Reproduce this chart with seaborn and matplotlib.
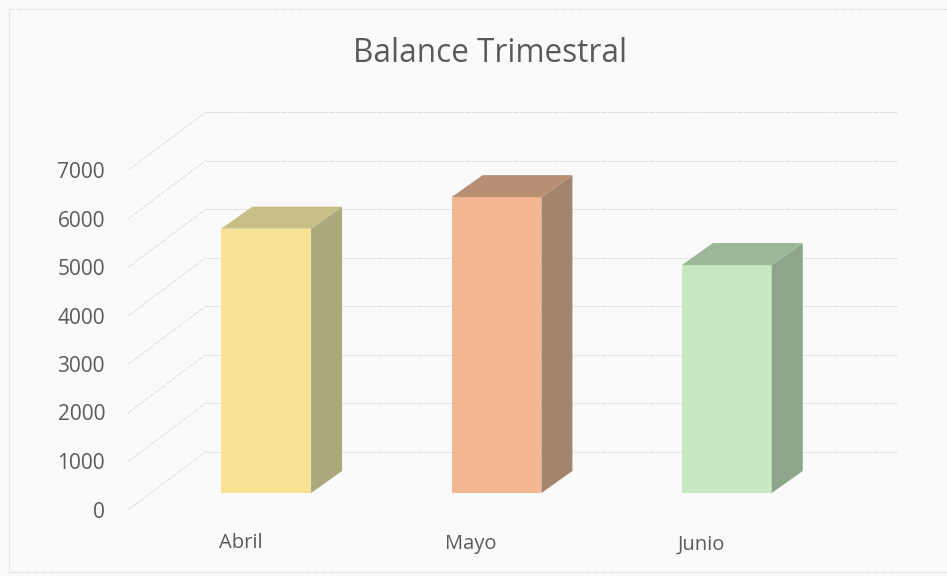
#!/usr/bin/env python3
import matplotlib
matplotlib.use('Agg')
import matplotlib.pyplot as plt
from matplotlib.patches import Polygon, Rectangle
import seaborn as sns

meses = ['Abril', 'Mayo', 'Junio']
valores = [5450, 6100, 4700]
ticks = [0, 1000, 2000, 3000, 4000, 5000, 6000, 7000]

front_cols = ['#F8E394', '#F2B690', '#C6E9C1']
top_cols = ['#C8BF86', '#B98F74', '#9BB797']
side_cols = ['#ABA87C', '#A5846C', '#8CA58C']

sns.set_theme(style='white')
plt.rcParams['font.family'] = ['Open Sans', 'DejaVu Sans']

W, H = 947, 576
BG = '#FAFAFA'
TXT = '#5A5A5A'
GRID = '#DEDEDE'

fig = plt.figure(figsize=(W / 100, H / 100), dpi=100, facecolor=BG)
# axes box = the floor line of the bars up to 7000, in pixels from the top
ax = fig.add_axes([151 / W, 1 - 493 / H, 691 / W, 339.5 / H])
ax.set_facecolor('none')

sns.barplot(x=meses, y=valores, hue=meses, palette=front_cols, width=0.39,
            saturation=1, legend=False, ax=ax, linewidth=0)
ax.set_xlim(-0.5, 2.5)
ax.set_ylim(0, 7000)
ax.set(xlabel='', ylabel='', xticks=[], yticks=[])
sns.despine(ax=ax, left=True, bottom=True)

# pixels -> data units
px_x = 3 / 691
px_y = 7000 / 339.5

# wall and floor lines
for t in ticks:
    y_front = t - 17 * px_y
    y_back = t + 41.5 * px_y
    ax.plot([-0.5 - 23 * px_x, -0.5 + 55 * px_x], [y_front, y_back], color=GRID,
            lw=0.7, ls=(0, (6, 1)), clip_on=False, zorder=0)
    ax.plot([-0.5 + 55 * px_x, 2.5 + 55 * px_x], [y_back, y_back], color=GRID,
            lw=0.7, ls=(0, (6, 1)), clip_on=False, zorder=0)
    ax.text(-0.5 - 46 * px_x, y_front - 2 * px_y, str(t), ha='right', va='center',
            color=TXT, fontsize=15)

# side and top faces of each bar
dx, dy = 31 * px_x, 22 * px_y
for bar, top_c, side_c in zip(ax.patches, top_cols, side_cols):
    x0, x1 = bar.get_x(), bar.get_x() + bar.get_width()
    h = bar.get_height()
    ax.add_patch(Polygon([(x1, 0), (x1 + dx, dy), (x1 + dx, h + dy), (x1, h)],
                         closed=True, fc=side_c, ec='none', clip_on=False, zorder=3))
    ax.add_patch(Polygon([(x0, h), (x0 + dx, h + dy), (x1 + dx, h + dy), (x1, h)],
                         closed=True, fc=top_c, ec='none', clip_on=False, zorder=3))

# category labels sit in front of the bars, scan is slightly skewed
for i, (m, drop) in enumerate(zip(meses, [50, 51, 52])):
    ax.text(i - 25.5 * px_x, -drop * px_y, m, ha='center', va='center',
            color=TXT, fontsize=14.5)

fig.text(490 / W, 1 - 54 / H, 'Balance Trimestral', ha='center', va='center',
         color=TXT, fontsize=22.7)

# chart frame from the scan
fig.add_artist(Rectangle((9 / W, 1 - 572 / H), 950 / W, 563 / H, transform=fig.transFigure,
                         fc='none', ec='#E2E2E2', lw=0.8, ls=(0, (6, 1))))

fig.savefig('out.png', dpi=100, facecolor=BG)
